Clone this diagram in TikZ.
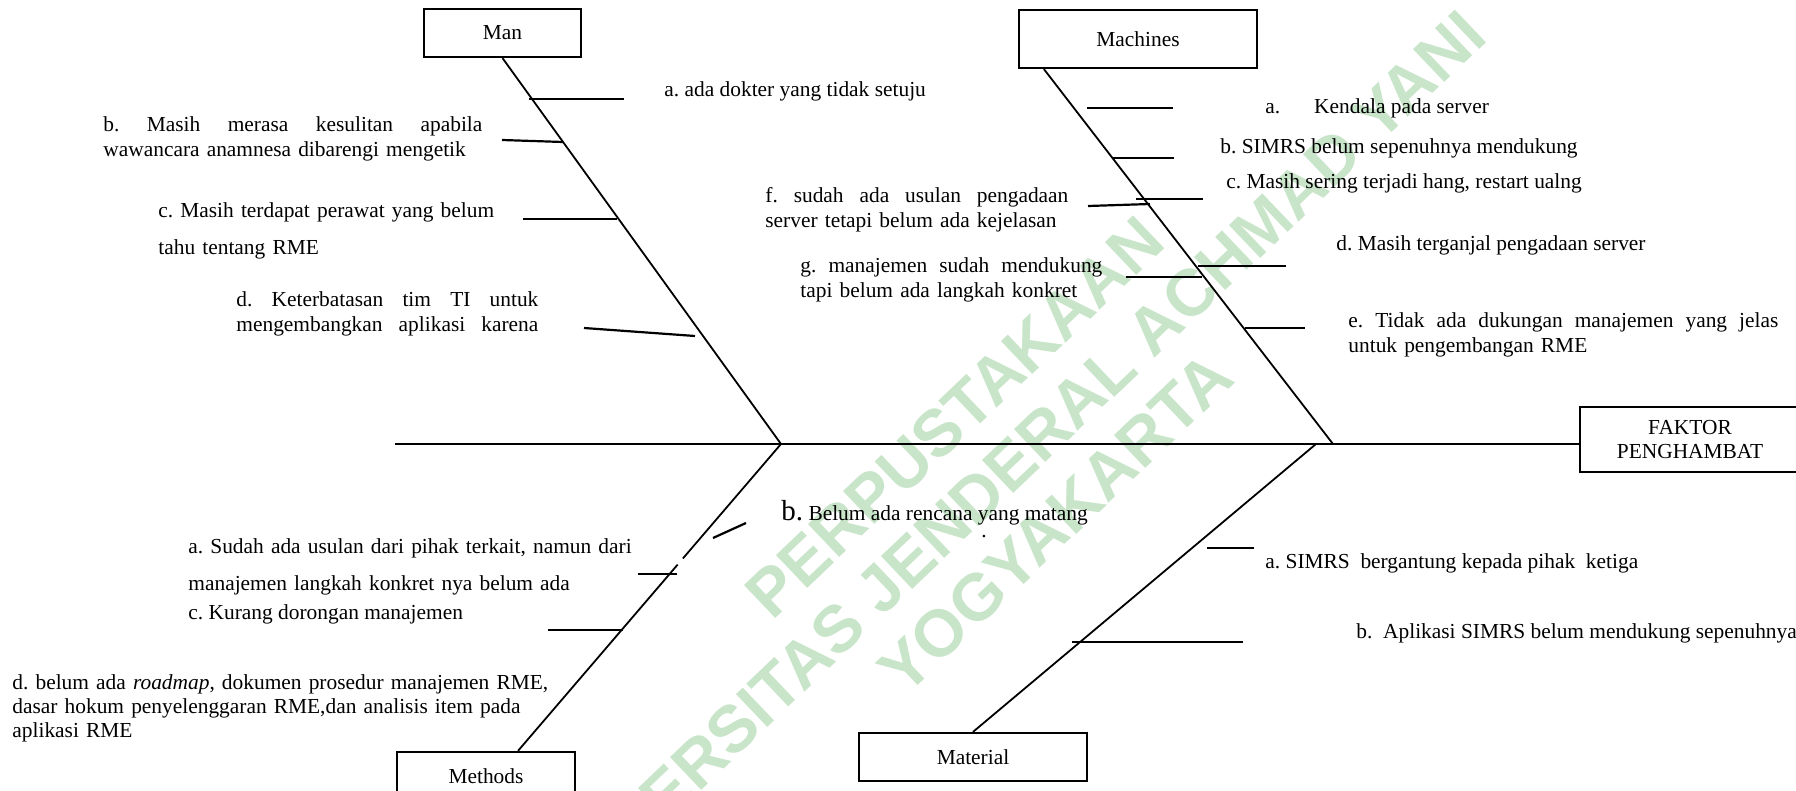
\documentclass[tikz,border=0pt]{standalone}
\usepackage{fontspec}
\setmainfont{Liberation Serif}
\newfontfamily\wmfont{Liberation Sans}
\usetikzlibrary{calc}

\definecolor{wmgreen}{RGB}{200,229,201}
\tikzset{
  box/.style={draw, line width=1.1pt, inner sep=0pt},
  bone/.style={line width=0.9pt},
  rib/.style={line width=1.1pt},
  lbl/.style={inner sep=0pt, anchor=base west},
}
\newcommand{\jline}[2]{\makebox[#1][s]{\spaceskip=0pt\xspaceskip=0pt\relax #2}}

\begin{document}
\frenchspacing
\begin{tikzpicture}[x=0.5pt, y=-0.5pt, every node/.style={font=\fontsize{10.7}{12.25}\selectfont}]

    \useasboundingbox (0,0) rectangle (1796,791);

    % watermark
    \node[rotate=43.6, text=wmgreen, align=center,
          font=\wmfont\bfseries\fontsize{33}{36.5}\selectfont] (wm) at (1005,470)
          {PERPUSTAKAAN\\UNIVERSITAS JENDERAL ACHMAD YANI\\YOGYAKARTA};

    % category boxes
    \node[box, minimum width=78.5pt, minimum height=24pt] (man) at (502.5,33) {Man};
    \node[box, minimum width=119pt, minimum height=29pt] (machines) at (1138,39) {Machines};
    \node[box, minimum width=89pt, minimum height=24pt] (methods) at (486,776) {Methods};
    \node[box, minimum width=114pt, minimum height=24pt] (material) at (973,757) {Material};
    \node[box, minimum width=110pt, minimum height=32.5pt, align=center] (faktor) at (1690,439.5) {FAKTOR\\PENGHAMBAT};

    % joints on the main line
    \coordinate (tail) at (395,444);
    \coordinate (jman) at (781,444);
    \coordinate (jmat) at (1316,444);
    \coordinate (jmach) at (1333,444);
    \coordinate (mtop) at ([xshift=16pt]methods.north);

    % main line and spines
    \draw[bone] (tail) -- (tail -| faktor.west);
    \draw[bone] (man.south) -- (jman);
    \draw[bone] ([xshift=13pt]machines.south west) -- (jmach);
    \draw[bone] (mtop) -- ($(mtop)!0.607!(jman)$) ($(mtop)!0.627!(jman)$) -- (jman);
    \draw[bone] (material.north) -- (jmat);

    % Man
    \draw[rib] (529,99) -- (624,99);
    \draw[rib] (502,140) -- (563,142);
    \draw[rib] (523,219) -- (617,219);
    \draw[rib] (584,328) -- (695,336);
    \node[lbl] (mana) at (664,97) {a. ada dokter yang tidak setuju};
    \node[lbl, text width=200pt] (manb) at (103,132)
        {\jline{189.5pt}{b. Masih merasa kesulitan apabila}\\wawancara anamnesa dibarengi mengetik};
    \node[lbl, text width=200pt] (manc) at (158,218)
        {c. Masih terdapat perawat yang belum\\[6.25pt]tahu tentang RME};
    \node[lbl, text width=160pt] (mand) at (236,307)
        {\jline{151pt}{d. Keterbatasan tim TI untuk}\\\jline{151pt}{mengembangkan aplikasi karena}};

    % Machines
    \draw[rib] (1087,108) -- (1173,108);
    \draw[rib] (1112,158) -- (1174,158);
    \draw[rib] (1136,199) -- (1203,199);
    \draw[rib] (1088,206) -- (1150,204);
    \draw[rib] (1198,266) -- (1286,266);
    \draw[rib] (1126,277) -- (1202,277);
    \draw[rib] (1245,328) -- (1305,328);
    \node[lbl] (macha) at (1265,114) {a.\hspace{17pt}Kendala pada server};
    \node[lbl] (machb) at (1220,154) {b. SIMRS belum sepenuhnya mendukung};
    \node[lbl] (machc) at (1226,189) {c. Masih sering terjadi hang, restart ualng};
    \node[lbl] (machd) at (1336,251) {d. Masih terganjal pengadaan server};
    \node[lbl, text width=220pt] (mache) at (1348,328)
        {\jline{215pt}{e. Tidak ada dukungan manajemen yang jelas}\\untuk pengembangan RME};
    \node[lbl, text width=160pt] (machf) at (765,203)
        {\jline{151.5pt}{f. sudah ada usulan pengadaan}\\server tetapi belum ada kejelasan};
    \node[lbl, text width=160pt] (machg) at (800,273)
        {\jline{151pt}{g. manajemen sudah mendukung}\\tapi belum ada langkah konkret};

    % Methods
    \draw[rib] (638,574) -- (677,574);
    \draw[rib] (713,538) -- (746,523);
    \draw[rib] (548,630) -- (623,630);
    \node[lbl, text width=240pt] (metha) at (188,553)
        {a. Sudah ada usulan dari pihak terkait, namun dari\\[6.25pt]manajemen langkah konkret nya belum ada};
    \node[lbl] (methb) at (781,521) {{\fontsize{14.5}{14.5}\selectfont b.} Belum ada rencana yang matang};
    \node[lbl] (methdot) at (981,538) {.};
    \node[lbl] (methc) at (188,619) {c. Kurang dorongan manajemen};
    \node[lbl, text width=280pt] (methd) at (12,689)
        {d. belum ada \textit{roadmap}, dokumen prosedur manajemen RME,\\dasar hokum penyelenggaran RME,dan analisis item pada\\aplikasi RME};

    % Material
    \draw[rib] (1207,548) -- (1254,548);
    \draw[rib] (1072,642) -- (1243,642);
    \node[lbl] (mata) at (1265,568) {a. SIMRS\ \ bergantung kepada pihak\ \ ketiga};
    \node[lbl] (matb) at (1356,639) {b.\ \ Aplikasi SIMRS belum mendukung sepenuhnya};

\end{tikzpicture}
\end{document}
